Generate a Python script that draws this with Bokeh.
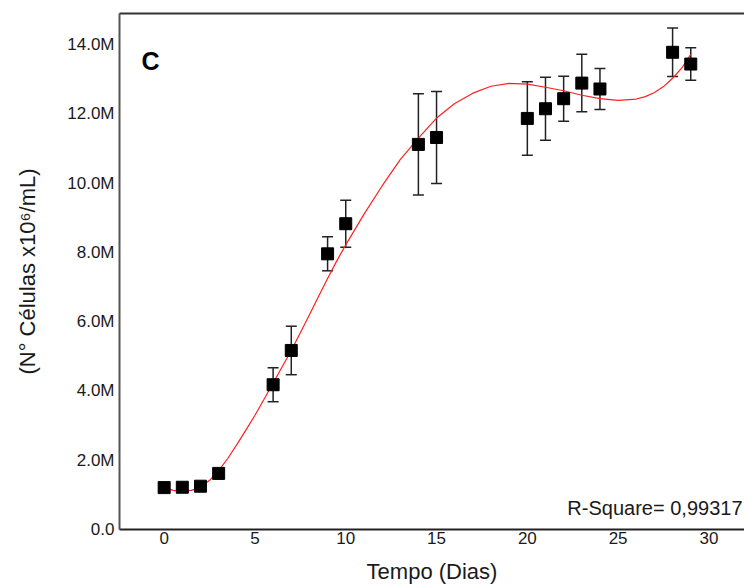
from bokeh.plotting import figure
from bokeh.models import (ColumnDataSource, Whisker, TeeHead, FixedTicker, LinearAxis,
                          CustomJSTickFormatter, Label, Range1d)
from bokeh.embed import file_html
from bokeh.resources import INLINE

# ---- data (millions of cells / mL) ----
days = [0, 1, 2, 3, 6, 7, 9, 10, 14, 15, 20, 21, 22, 23, 24, 28, 29]
cells_m = [1.21, 1.22, 1.25, 1.62, 4.18, 5.17, 7.96, 8.83, 11.12, 11.32,
           11.87, 12.15, 12.44, 12.89, 12.72, 13.78, 13.44]
err_m = [0.05, 0.05, 0.05, 0.05, 0.49, 0.70, 0.49, 0.68, 1.46, 1.33,
         1.06, 0.91, 0.65, 0.83, 0.59, 0.70, 0.47]

fit_days = [0, 0.5, 1, 1.5, 2, 2.5, 3, 3.5, 4, 4.5, 5, 5.5, 6, 6.5, 7, 7.5, 8, 8.5,
            9, 9.5, 10, 11, 12, 13, 14, 15, 16, 17, 18, 19, 20, 21, 22, 23, 24,
            25, 26, 26.5, 27, 27.5, 28, 28.5, 29]
fit_m = [1.21, 1.13, 1.10, 1.13, 1.22, 1.42, 1.70, 2.05, 2.45, 2.87, 3.30, 3.76,
         4.23, 4.70, 5.17, 5.68, 6.20, 6.73, 7.25, 7.75, 8.22, 9.10, 9.92, 10.68,
         11.30, 11.88, 12.30, 12.60, 12.80, 12.88, 12.86, 12.77, 12.67, 12.54,
         12.44, 12.39, 12.43, 12.50, 12.62, 12.79, 13.03, 13.32, 13.72]

y_ticks_m = [0, 2, 4, 6, 8, 10, 12, 14]
x_ticks = [0, 5, 10, 15, 20, 25, 30]

M = 1e6
cells = [v * M for v in cells_m]
fit = [v * M for v in fit_m]
upper = [(v + e) * M for v, e in zip(cells_m, err_m)]
lower = [(v - e) * M for v, e in zip(cells_m, err_m)]

FONT = "Liberation Sans"

p = figure(frame_width=625, frame_height=516, output_backend="svg", toolbar_location=None,
           x_range=Range1d(-2.46, 31.96), y_range=Range1d(0, 14.9 * M),
           min_border_left=119, min_border_right=0, min_border_top=13,
           min_border_bottom=50)
p.outline_line_color = None
p.xgrid.visible = False
p.ygrid.visible = False
p.background_fill_color = "white"
p.border_fill_color = "white"

src = ColumnDataSource(dict(x=days, y=cells, upper=upper, lower=lower))

w = Whisker(base="x", upper="upper", lower="lower", source=src,
            line_color="#222222", line_width=1.5,
            upper_head=TeeHead(size=11, line_color="#222222", line_width=1.5),
            lower_head=TeeHead(size=11, line_color="#222222", line_width=1.5))
w.level = "underlay"
p.add_layout(w)

p.line(fit_days, fit, line_color="#ff2020", line_width=1.2)
p.scatter("x", "y", source=src, marker="square", size=12,
          fill_color="black", line_color="black")

# axes
xa = p.xaxis[0]
xa.ticker = FixedTicker(ticks=x_ticks)
xa.axis_label = "Tempo (Dias)"
ya = p.yaxis[0]
ya.ticker = FixedTicker(ticks=[t * M for t in y_ticks_m])
ya.formatter = CustomJSTickFormatter(
    code="return tick == 0 ? '0.0' : (tick/1e6).toFixed(1) + 'M';")
ya.axis_label = "(N° Células x10\u2076/mL)"

for ax in (xa, ya):
    ax.major_tick_line_color = None
    ax.minor_tick_line_color = None
    ax.major_tick_out = 0
    ax.major_tick_in = 0
    ax.minor_tick_out = 0
    ax.major_label_text_font = FONT
    ax.major_label_text_font_size = "17px"
    ax.major_label_text_color = "#1a1a1a"
    ax.axis_label_text_font = FONT
    ax.axis_label_text_font_size = "22px"
    ax.axis_label_text_font_style = "normal"
    ax.axis_label_text_color = "#1a1a1a"
    ax.axis_line_width = 2
xa.axis_line_color = "#222222"
ya.axis_line_color = "#555555"
xa.major_label_standoff = 2
ya.major_label_standoff = 5
xa.axis_label_standoff = 12
ya.axis_label_standoff = 24

top = LinearAxis(ticker=FixedTicker(ticks=[]), axis_line_color="#333333",
                 axis_line_width=2, major_tick_line_color=None,
                 minor_tick_line_color=None, major_label_text_font_size="0px",
                 major_tick_out=0, major_tick_in=0, minor_tick_out=0,
                 major_label_standoff=0)
p.add_layout(top, "above")

p.add_layout(Label(x=31, y=469, x_units="screen", y_units="screen", text="C",
                   text_font=FONT, text_font_size="25px", text_font_style="bold",
                   text_align="center", text_baseline="middle", text_color="black"))
p.add_layout(Label(x=623, y=22, x_units="screen", y_units="screen",
                   text="R-Square= 0,99317", text_font=FONT, text_font_size="20px",
                   text_align="right", text_baseline="middle", text_color="#1a1a1a"))

open("out.html", "w").write(file_html(p, INLINE))
